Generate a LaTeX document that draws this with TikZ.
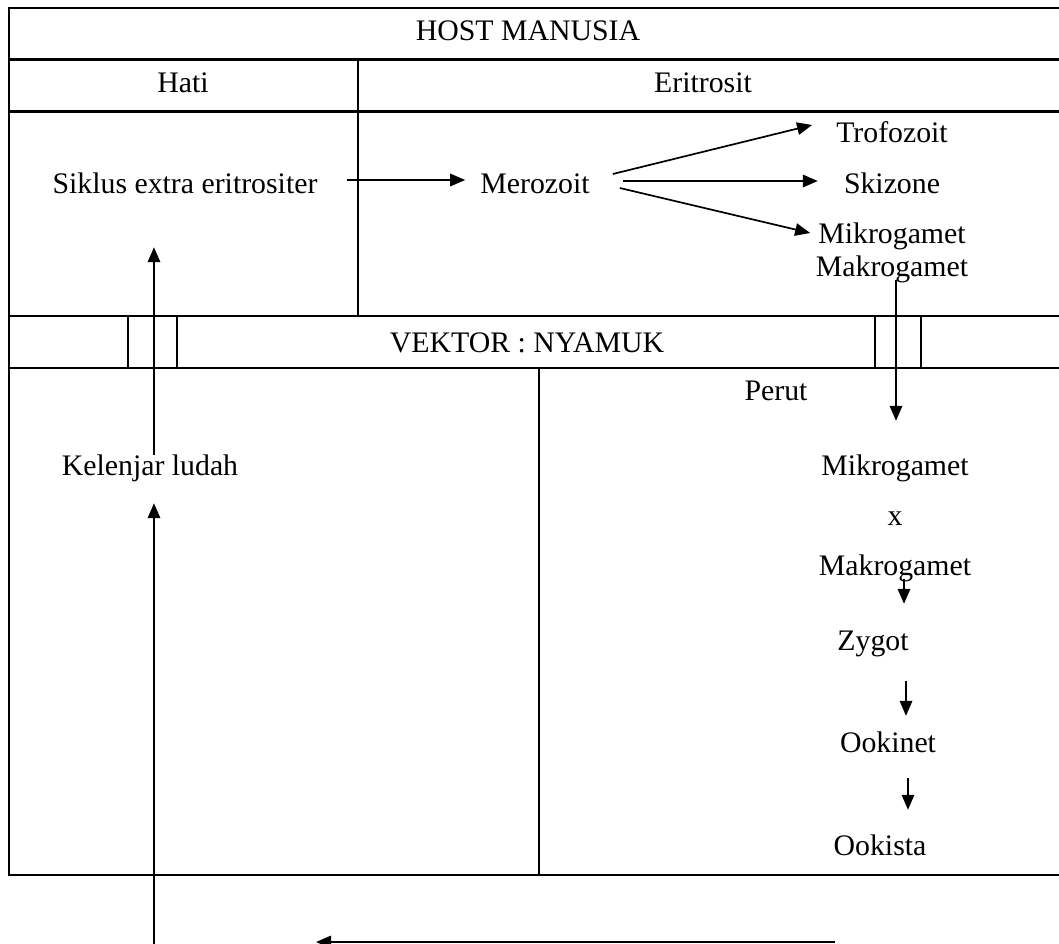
\documentclass[tikz,border=0pt]{standalone}
\usepackage{fontspec}
\setmainfont{Liberation Serif}
\usetikzlibrary{arrows.meta}
\begin{document}
\begin{tikzpicture}[x=1pt,y=-1pt,
  lbl/.style={inner sep=0pt,text height=20pt,text depth=0pt,font=\fontsize{29.8}{34}\selectfont},
  hrule/.style={line width=2.8pt},
  vrule/.style={line width=1.9pt},
  arr/.style={line width=1.7pt,-{Triangle[length=15pt,width=12.5pt]}}]
\useasboundingbox (0,0) rectangle (1059,943);
\clip (0,0) rectangle (1059,943);

% table frame, open to the right
\draw[hrule] (8,8) -- (1080,8);
\draw[hrule] (8,59.5) -- (1080,59.5);
\draw[hrule] (8,111.5) -- (1080,111.5);
\draw[hrule] (8,316) -- (1080,316);
\draw[hrule] (8,368) -- (1080,368);
\draw[hrule] (8,875) -- (1080,875);
\draw[vrule] (9,8) -- (9,875);
\draw[vrule] (358,59.5) -- (358,316);
\draw[vrule] (128,316) -- (128,368);
\draw[vrule] (177,316) -- (177,368);
\draw[vrule] (875,316) -- (875,368);
\draw[vrule] (921,316) -- (921,368);
\draw[vrule] (539,368) -- (539,875);

% headings
\node[lbl] (host) at (528,30) {HOST MANUSIA};
\node[lbl] (hati) at (183,82) {Hati};
\node[lbl] (eritrosit) at (703,82) {Eritrosit};
\node[lbl] (vektor) at (527,342) {VEKTOR : NYAMUK};

% human host stages
\node[lbl] (siklus) at (185,183) {Siklus extra eritrositer};
\node[lbl] (merozoit) at (535,183) {Merozoit};
\node[lbl] (trofo) at (892,132) {Trofozoit};
\node[lbl] (skizone) at (892,183) {Skizone};
\node[lbl] (mikroA) at (892,233) {Mikrogamet};
\node[lbl] (makroA) at (892,266) {Makrogamet};

% mosquito stages
\node[lbl] (perut) at (776,390) {Perut};
\node[lbl] (kelenjar) at (150,465) {Kelenjar ludah};
\node[lbl] (mikroB) at (895,465) {Mikrogamet};
\node[lbl] (kali) at (895,515) {x};
\node[lbl] (makroB) at (895,565) {Makrogamet};
\node[lbl] (zygot) at (873,640) {Zygot};
\node[lbl] (ookinet) at (888,742) {Ookinet};
\node[lbl] (ookista) at (880,845) {Ookista};

\coordinate (lowstart) at (154,960);
\coordinate (hstart) at (835,942);
\coordinate (hend) at (316,942);

% connectors
\draw[arr] ([shift={(29.5,-3)}]siklus.east) -- ([shift={(-15,-3)}]merozoit.west);
\draw[arr] ([shift={(23,-9)}]merozoit.east) -- ([shift={(-24,-7)}]trofo.west);
\draw[arr] ([shift={(33,-2)}]merozoit.east) -- ([shift={(-26,-2)}]skizone.west);
\draw[arr] ([shift={(30,5)}]merozoit.east) -- ([shift={(-8,0)}]mikroA.west);
\draw[arr] ([shift={(4,4)}]makroA.south) -- ([shift={(1,-34)}]mikroB.north);
\draw[arr] ([shift={(9,4)}]makroB.south) -- ([shift={(31,-26)}]zygot.north);
\draw[arr] ([shift={(33,31)}]zygot.south) -- ([shift={(18,-16)}]ookinet.north);
\draw[arr] ([shift={(20,26)}]ookinet.south) -- ([shift={(28,-25)}]ookista.north);
\draw[arr] ([shift={(4,0)}]kelenjar.north) -- ([shift={(-31,54)}]siklus.south);
\draw[arr] (lowstart) -- ([shift={(4,28)}]kelenjar.south);
\draw[arr] (hstart) -- (hend);
\end{tikzpicture}
\end{document}
